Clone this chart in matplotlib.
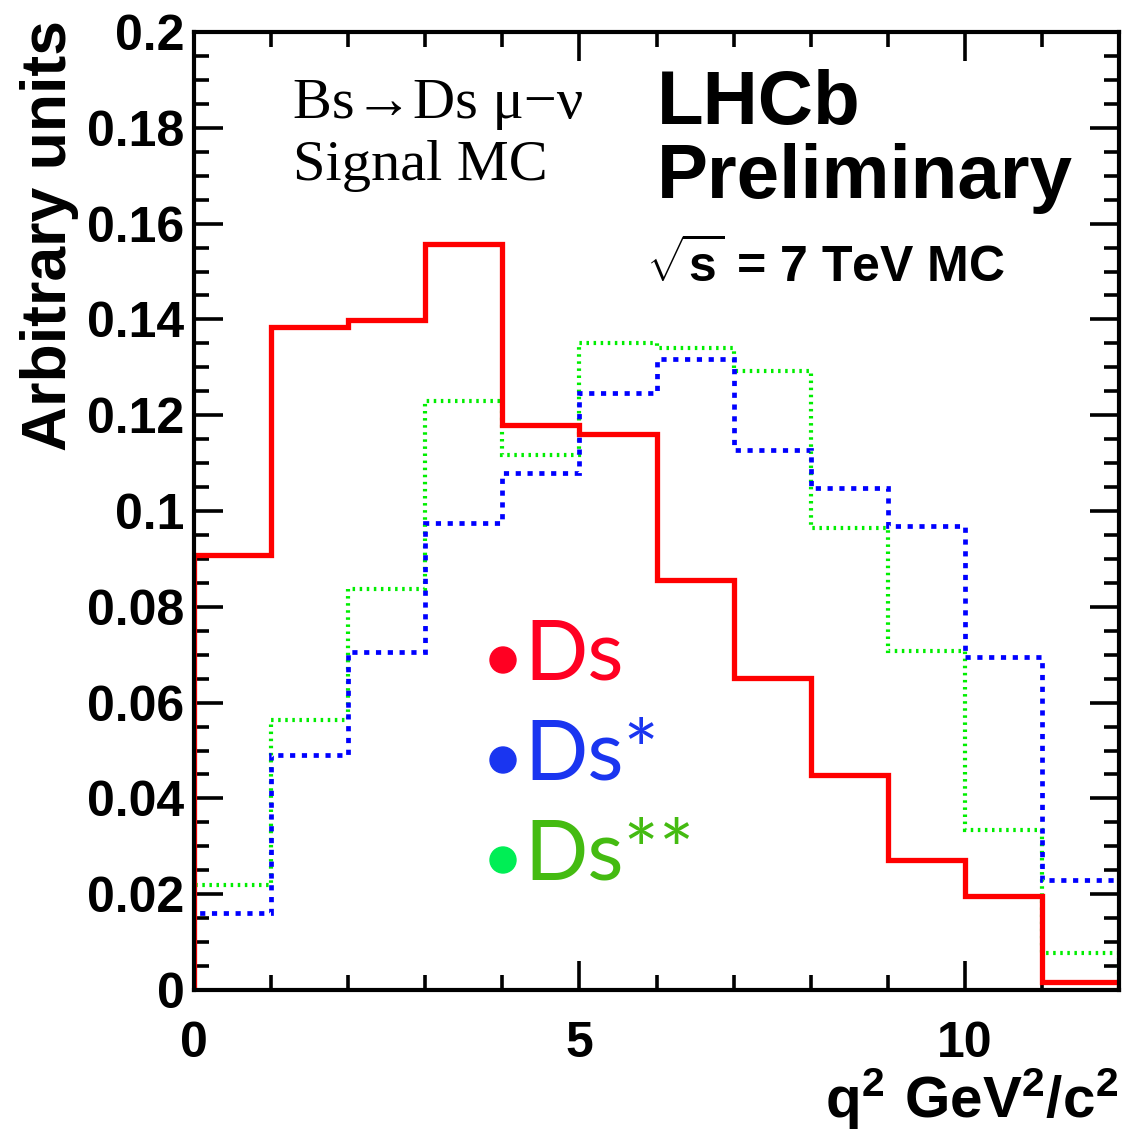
import matplotlib
matplotlib.use("Agg")
import matplotlib.pyplot as plt
import numpy as np
from matplotlib.ticker import MultipleLocator

plt.rcParams["mathtext.fontset"] = "custom"
plt.rcParams["mathtext.bf"] = "Liberation Sans:bold"
plt.rcParams["mathtext.rm"] = "Liberation Sans:bold"

# ---- data ----
bin_edges = [0, 1, 2, 3, 4, 5, 6, 7, 8, 9, 10, 11, 12]
ds_values = [0.0908, 0.1385, 0.1398, 0.1557, 0.1180, 0.1160, 0.0856, 0.0651, 0.0449, 0.0271, 0.0196, 0.0017]
dsstar_values = [0.0161, 0.0490, 0.0706, 0.0975, 0.1080, 0.1247, 0.1318, 0.1128, 0.1048, 0.0969, 0.0695, 0.0230]
dsstarstar_values = [0.0219, 0.0564, 0.0837, 0.1230, 0.1117, 0.1351, 0.1340, 0.1293, 0.0965, 0.0708, 0.0334, 0.0077]
y_ticks = [0, 0.02, 0.04, 0.06, 0.08, 0.1, 0.12, 0.14, 0.16, 0.18, 0.2]
y_tick_labels = ["0", "0.02", "0.04", "0.06", "0.08", "0.1", "0.12", "0.14", "0.16", "0.18", "0.2"]
x_ticks = [0, 5, 10]
x_tick_labels = ["0", "5", "10"]

W, H = 1138, 1139
fig = plt.figure(figsize=(W / 100, H / 100), dpi=100)
ax = fig.add_axes([194 / W, 1 - 990 / H, (1119 - 194) / W, (990 - 32) / H])

ax.stairs(dsstarstar_values, bin_edges, baseline=0, color="#00ee00", lw=3.0,
          linestyle=(0, (0.6, 1.1)), zorder=2)
ax.stairs(dsstar_values, bin_edges, baseline=0, color="#0000ff", lw=3.4,
          linestyle=(0, (1.1, 1.4)), zorder=3)
ax.stairs(ds_values, bin_edges, baseline=0, color="#ff0000", lw=3.8, zorder=4)

ax.set_xlim(0, 12)
ax.set_ylim(0, 0.2)
ax.set_yticks(y_ticks)
ax.set_yticklabels(y_tick_labels)
ax.set_xticks(x_ticks)
ax.set_xticklabels(x_tick_labels)
ax.xaxis.set_minor_locator(MultipleLocator(1))
ax.yaxis.set_minor_locator(MultipleLocator(0.005))
ax.tick_params(which="both", direction="in", top=True, right=True, width=2.6, color="black")
ax.tick_params(which="major", length=21)
ax.tick_params(which="minor", length=11)
ax.tick_params(axis="y", which="major", pad=7)
ax.tick_params(axis="x", which="major", pad=22)
for lab in ax.get_xticklabels() + ax.get_yticklabels():
    lab.set_fontfamily("Liberation Sans")
    lab.set_fontweight("bold")
    lab.set_fontsize(36)
for s in ax.spines.values():
    s.set_linewidth(3)
    s.set_zorder(10)

def fx(px):
    return px / W

def fy(py):
    return 1 - py / H

fig.text(fx(50), fy(20), "Arbitrary units", rotation=90, ha="center", va="top",
         fontfamily="Liberation Sans", fontweight="bold", fontsize=45)
fig.text(fx(1118), fy(1132), r"$\mathbf{q^{2}\ GeV^{2}/c^{2}}$", ha="right", va="bottom",
         fontsize=42)

fig.text(fx(293), fy(118), "Bs→Ds μ−ν", ha="left", va="baseline",
         fontfamily=["Liberation Serif", "DejaVu Serif"], fontsize=42)
fig.text(fx(293), fy(180), "Signal MC", ha="left", va="baseline",
         fontfamily=["Liberation Serif", "DejaVu Serif"], fontsize=42)
fig.text(fx(657), fy(124), "LHCb", ha="left", va="baseline",
         fontfamily="Liberation Sans", fontweight="bold", fontsize=55)
fig.text(fx(657), fy(198), "Preliminary", ha="left", va="baseline",
         fontfamily="Liberation Sans", fontweight="bold", fontsize=55)
fig.text(fx(646), fy(282), r"$\sqrt{\mathbf{s}}$" + " = 7 TeV MC", ha="left", va="baseline",
         fontfamily="Liberation Sans", fontweight="bold", fontsize=36)

legend_items = [("Ds", "#ff0022", "#ff0022", 680),
                ("Ds*", "#1a35f0", "#1a35f0", 780),
                ("Ds**", "#44bb11", "#00ee55", 880)]
for label, tcol, dcol, base in legend_items:
    fig.text(fx(524), fy(base), label, ha="left", va="baseline",
             fontfamily="Lato", fontsize=60, color=tcol)
    fig.patches.append(matplotlib.patches.Ellipse((fx(503), fy(base - 20)), 26 / W, 26 / H,
                                                  transform=fig.transFigure, color=dcol))

fig.savefig("out.png", dpi=100)
